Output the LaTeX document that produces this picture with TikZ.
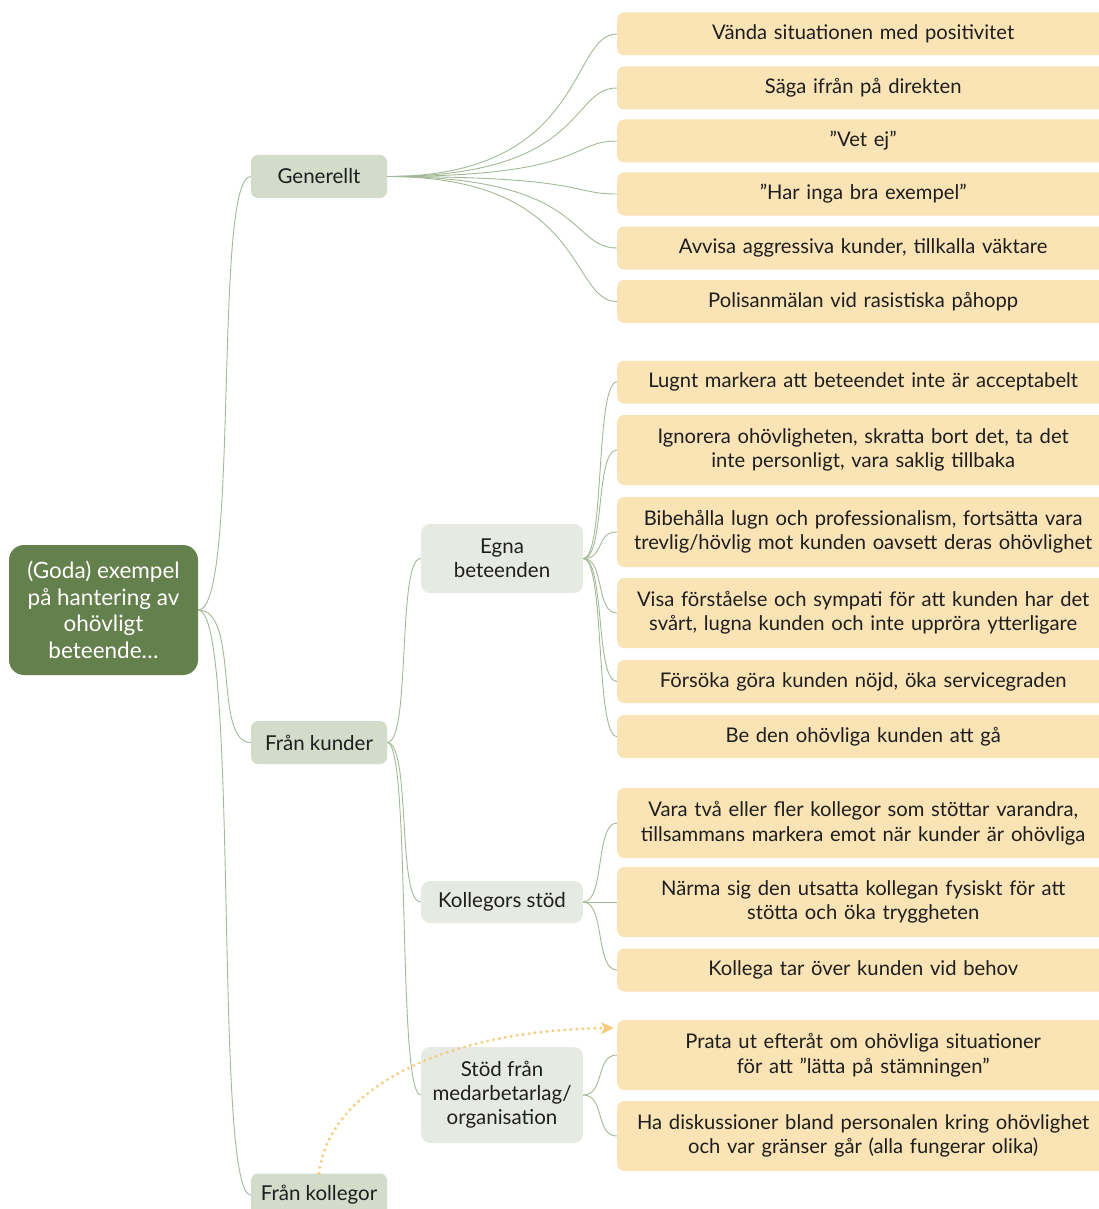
\documentclass[tikz,border=0pt]{standalone}
\usepackage{fontspec}
\setmainfont{Lato}
\usetikzlibrary{arrows.meta}
\definecolor{rootgreen}{HTML}{64804C}
\definecolor{topicgreen}{HTML}{D3DCCB}
\definecolor{subgreen}{HTML}{E6EAE3}
\definecolor{leafsand}{HTML}{FAE3B4}
\definecolor{linegreen}{HTML}{A3B896}
\definecolor{hintsand}{HTML}{F5CD80}
\definecolor{inkgrey}{HTML}{1E1E1E}

\begin{document}
\begin{tikzpicture}[x=1pt,y=-1pt,
	root/.style={fill=rootgreen, text=white, rounded corners=15pt, minimum width=189pt, minimum height=130pt, align=center, font=\fontsize{22.5}{26.5}\selectfont, inner sep=0pt},
	topic/.style={fill=topicgreen, text=inkgrey, rounded corners=7pt, minimum width=136pt, minimum height=43pt, font=\fontsize{20.5}{24}\selectfont, inner sep=0pt},
	subtopic/.style={fill=subgreen, text=inkgrey, rounded corners=9pt, minimum width=162pt, align=center, font=\fontsize{20.5}{24}\selectfont, inner sep=0pt},
	leaf/.style={fill=leafsand, text=inkgrey, rounded corners=7pt, anchor=west, minimum width=492pt, minimum height=43pt, text width=476pt, align=center, font=\fontsize{20.2}{24.5}\selectfont, inner sep=0pt},
	tall/.style={minimum height=70pt},
	branch/.style={draw=linegreen, line width=0.9pt},
	hint/.style={draw=hintsand, line width=3.3pt, line cap=round, dash pattern=on 0pt off 6pt, -{Stealth[length=13pt,width=12pt,inset=3pt,line cap=butt]}}]
	%%%%% START %%%%%
	\clip (0,0) rectangle (1099,1209);
	
	\node[root] (goda) at (103.5,610) {(Goda) exempel\\på hantering av\\ohövligt\\beteende\ldots};
	
	\node[topic] (generellt) at (319,176.5) {Generellt};
	\node[topic] (kunder) at (319,742.5) {Från kunder};
	\node[topic] (kollegor) at (319,1195) {Från kollegor};
	
	\node[subtopic, minimum height=69pt] (egna) at (502,558.5) {Egna\\beteenden};
	\node[subtopic, minimum height=42pt] (stod) at (502,902) {Kollegors stöd};
	\node[subtopic, minimum height=96pt] (org) at (502,1095) {Stöd från\\medarbetarlag/\\organisation};
	
	\node[leaf] (vanda) at (617,34) {Vända situationen med positivitet};
	\node[leaf] (saga) at (617,88) {Säga ifrån på direkten};
	\node[leaf] (vetej) at (617,141) {”Vet ej”};
	\node[leaf] (haringa) at (617,194) {”Har inga bra exempel”};
	\node[leaf] (avvisa) at (617,248) {Avvisa aggressiva kunder, tillkalla väktare};
	\node[leaf] (polis) at (617,301.5) {Polisanmälan vid rasistiska påhopp};
	
	\node[leaf] (lugnt) at (617,382) {Lugnt markera att beteendet inte är acceptabelt};
	\node[leaf, tall] (ignorera) at (617,450) {Ignorera ohövligheten, skratta bort det, ta det\\inte personligt, vara saklig tillbaka};
	\node[leaf, tall] (bibehalla) at (617,532) {Bibehålla lugn och professionalism, fortsätta vara\\trevlig/hövlig mot kunden oavsett deras ohövlighet};
	\node[leaf, tall] (visa) at (617,613) {Visa förståelse och sympati för att kunden har det\\svårt, lugna kunden och inte uppröra ytterligare};
	\node[leaf] (forsoka) at (617,681.5) {Försöka göra kunden nöjd, öka servicegraden};
	\node[leaf] (beden) at (617,736.5) {Be den ohövliga kunden att gå};
	
	\node[leaf, tall] (varatva) at (617,823) {Vara två eller fler kollegor som stöttar varandra,\\tillsammans markera emot när kunder är ohövliga};
	\node[leaf, tall] (narma) at (617,902) {Närma sig den utsatta kollegan fysiskt för att\\stötta och öka tryggheten};
	\node[leaf] (tarover) at (617,970) {Kollega tar över kunden vid behov};
	
	\node[leaf, tall] (prata) at (617,1055) {Prata ut efteråt om ohövliga situationer\\för att ”lätta på stämningen”};
	\node[leaf, tall] (diskussion) at (617,1136) {Ha diskussioner bland personalen kring ohövlighet\\och var gränser går (alla fungerar olika)};
	
	% grenar
	\foreach \n in {generellt,kunder,kollegor}
		\draw[branch] (goda.east) .. controls +(42,0) and +(-38,0) .. (\n.west);
	\foreach \n in {vanda,saga,vetej,haringa,avvisa,polis}
		\draw[branch] (generellt.east) .. controls +(200,0) and +(-48,0) .. (\n.west);
	\foreach \n in {egna,stod,org}
		\draw[branch] (kunder.east) .. controls +(24,0) and +(-24,0) .. (\n.west);
	\foreach \n in {lugnt,ignorera,bibehalla,visa,forsoka,beden}
		\draw[branch] (egna.east) .. controls +(22,0) and +(-22,0) .. (\n.west);
	\foreach \n in {varatva,narma,tarover}
		\draw[branch] (stod.east) .. controls +(22,0) and +(-22,0) .. (\n.west);
	\foreach \n in {prata,diskussion}
		\draw[branch] (org.east) .. controls +(22,0) and +(-22,0) .. (\n.west);
	
	\coordinate (pil) at (614,1028);
	\draw[hint] (kollegor.north) .. controls (330,1085) and (450,1030) .. (pil);
	%%%%% END %%%%%
\end{tikzpicture}
\end{document}
